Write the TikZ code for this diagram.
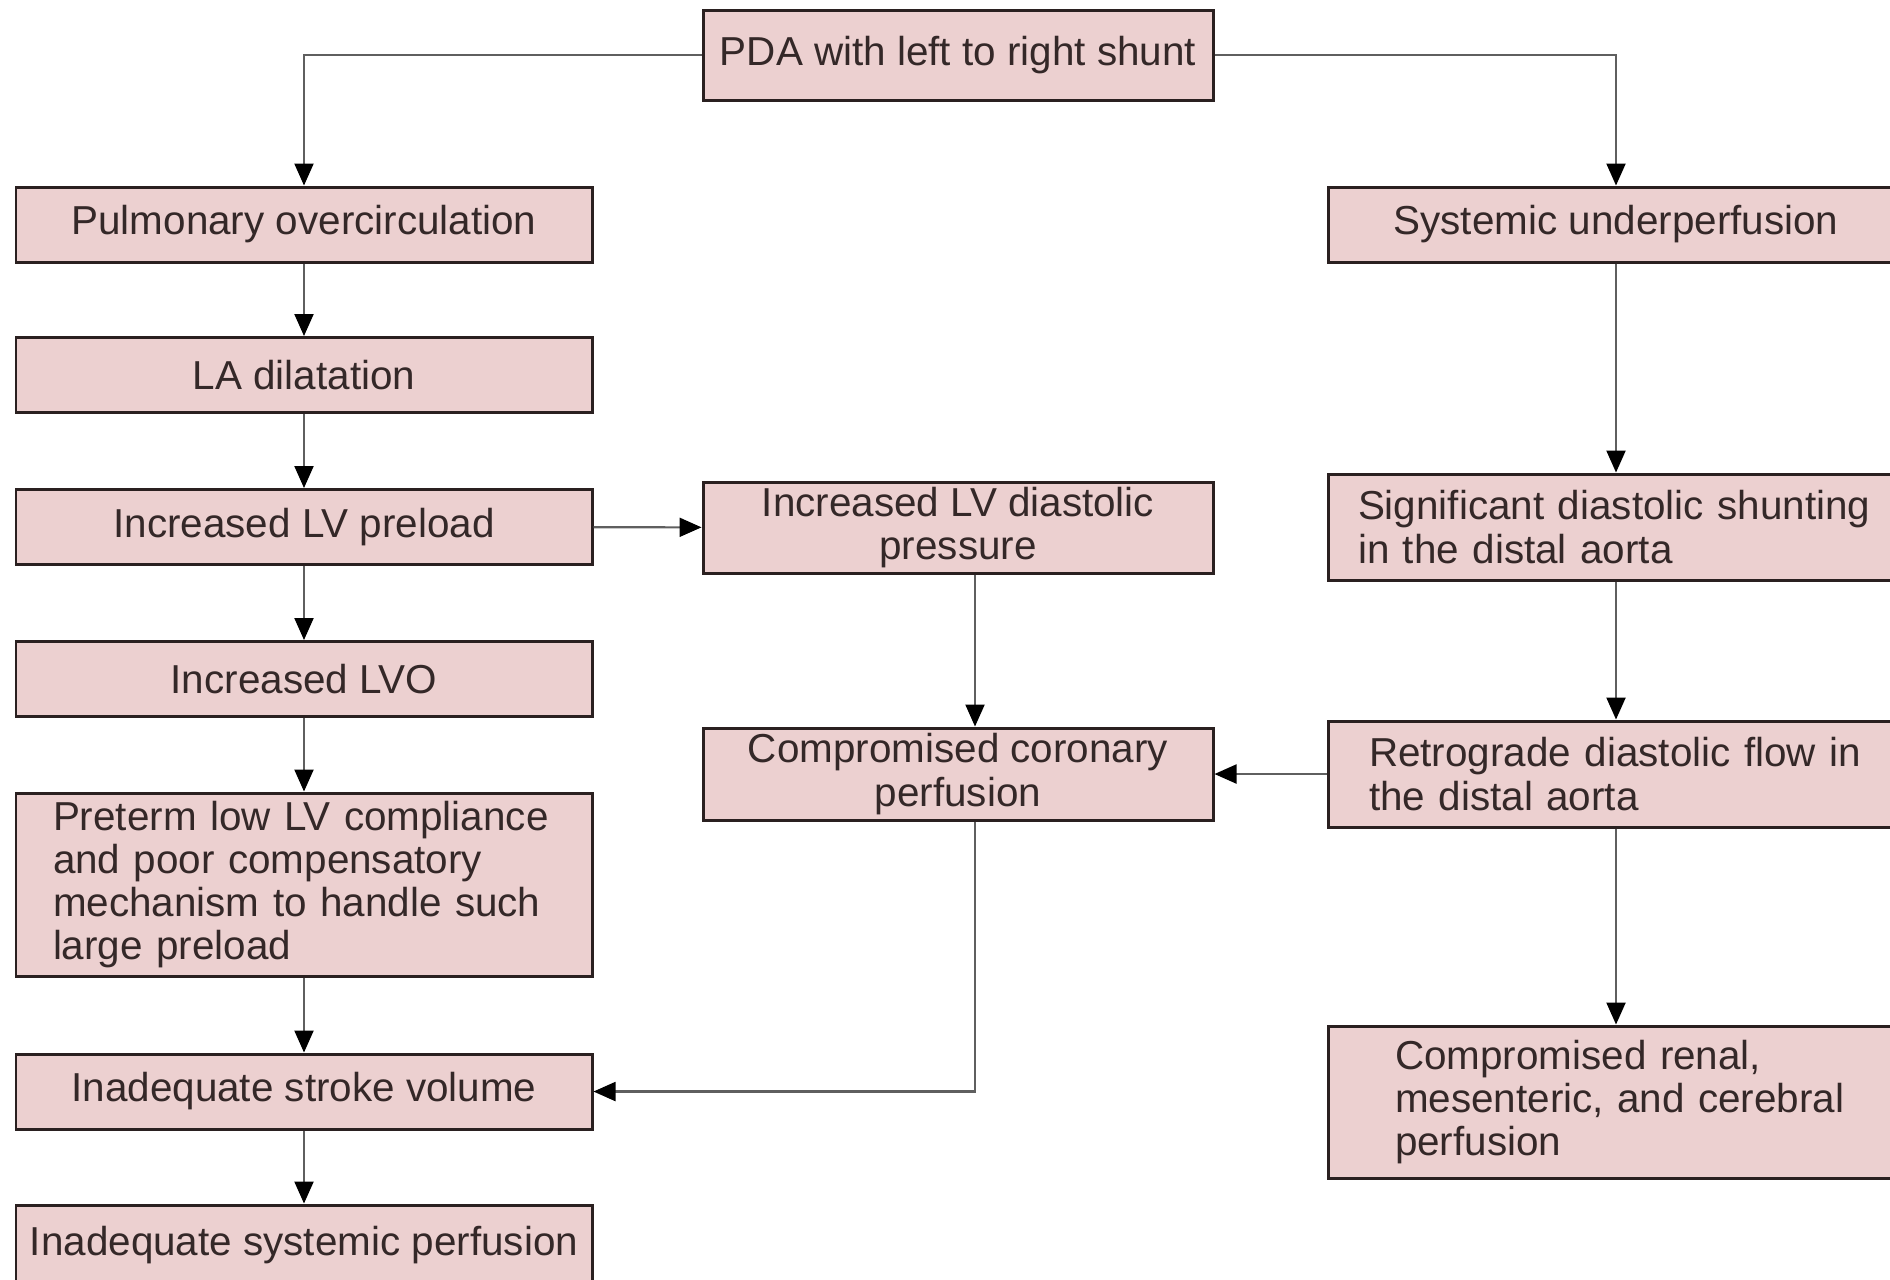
\documentclass[tikz,border=0pt]{standalone}
\usepackage{fontspec}
\setmainfont{Liberation Sans}
\usetikzlibrary{arrows.meta}
\definecolor{boxfill}{RGB}{236,208,208}
\definecolor{boxline}{RGB}{42,32,32}
\definecolor{boxtext}{RGB}{52,40,40}
\definecolor{wire}{RGB}{95,95,95}
\begin{document}
\begin{tikzpicture}[x=0.1mm,y=-0.1mm,
  box/.style={draw=boxline,line width=0.85pt,fill=boxfill,text=boxtext,
    font=\fontsize{11.5}{12.3}\selectfont,inner sep=0pt,align=center,
    minimum width=57.6mm,minimum height=7.5mm},
  arr/.style={draw=wire,line width=0.6pt,-{Triangle[length=2.2mm,width=1.9mm,color=black]}}]
\useasboundingbox (0,0) rectangle (1890,1279);
\node[box,minimum width=51mm,minimum height=9mm] at (958,55) (pda) {PDA with left to right shunt};
\node[box] at (304,224.5) (pulm) {Pulmonary overcirculation};
\node[box] at (304,375) (ladil) {LA dilatation};
\node[box] at (304,527) (preload) {Increased LV preload};
\node[box] at (304,679) (lvo) {Increased LVO};
\node[box,text width=50.2mm,inner xsep=3.7mm,align=left,minimum height=18.3mm] at (304,884.5) (preterm) {Preterm low LV compliance and poor compensatory mechanism to handle such large preload};
\node[box] at (304,1091.5) (stroke) {Inadequate stroke volume};
\node[box,minimum height=8mm] at (304,1245) (sysperf) {Inadequate systemic perfusion};
\node[box,minimum width=51mm,minimum height=9.1mm] at (958,527.5) (lvdp) {Increased LV diastolic\\pressure};
\node[box,minimum width=51mm,minimum height=9.2mm] at (958,774) (coronary) {Compromised coronary\\perfusion};
\node[box] at (1616,224.5) (underperf) {Systemic underperfusion};
\node[box,text width=51.6mm,inner xsep=3mm,align=left,minimum height=10.6mm] at (1616,527) (shunt) {Significant diastolic shunting\\in the distal aorta};
\node[box,text width=49.4mm,inner xsep=4.1mm,align=left,minimum height=10.6mm] at (1616,774) (retro) {Retrograde diastolic flow in\\the distal aorta};
\node[box,text width=44.2mm,inner xsep=6.7mm,align=left,minimum height=15.2mm] at (1616,1102) (renal) {Compromised renal,\\\mbox{mesenteric, and cerebral}\\perfusion};
\draw[arr] (pda.west) -| (pulm.north);
\draw[arr] (pda.east) -| (underperf.north);
\draw[arr] (pulm) to (ladil);
\draw[arr] (ladil) to (preload);
\draw[arr] (preload) to (lvo);
\draw[arr] (lvo) to (preterm);
\draw[arr] (preterm) to (stroke);
\draw[arr] (stroke) to (sysperf);
\draw[arr] (preload) to (lvdp);
\draw[arr] ([xshift=1.7mm]lvdp.south) to ([xshift=1.7mm]coronary.north);
\draw[arr] ([xshift=1.7mm]coronary.south) |- (stroke.east);
\draw[arr] (underperf) to (shunt);
\draw[arr] (shunt) to (retro);
\draw[arr] (retro) to (coronary);
\draw[arr] (retro) to (renal);
\end{tikzpicture}
\end{document}
